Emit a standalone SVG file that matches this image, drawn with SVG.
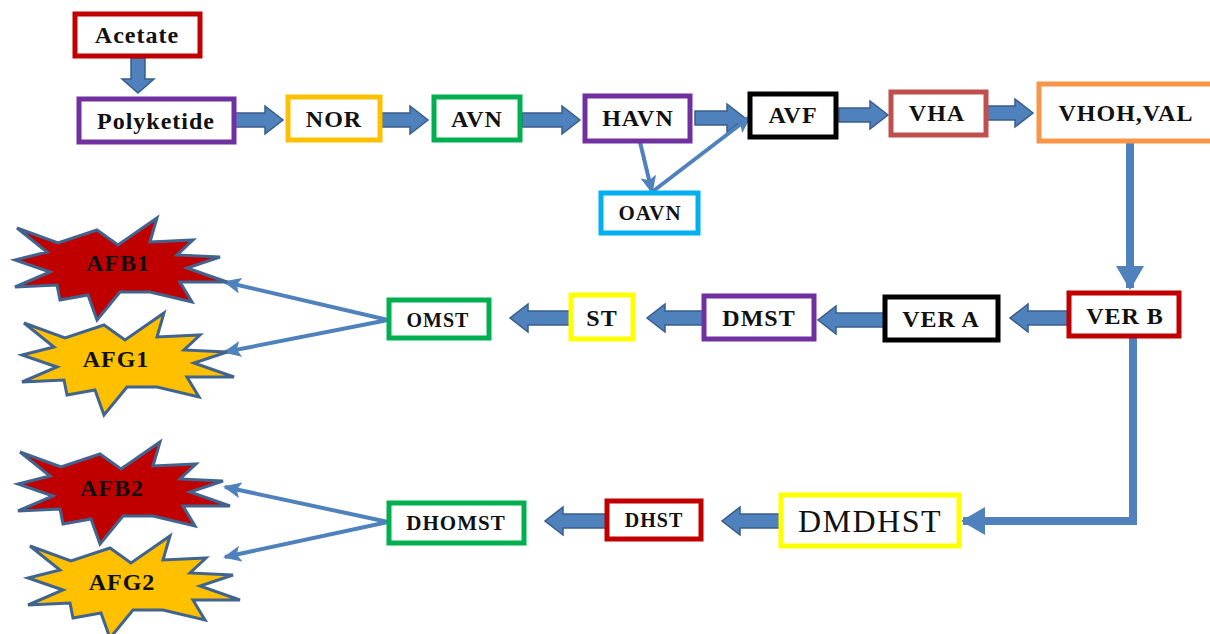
<svg xmlns="http://www.w3.org/2000/svg" xmlns:xlink="http://www.w3.org/1999/xlink" width="1210" height="634" viewBox="0 0 1210 634">
  <style>
    .box { fill: #ffffff; stroke-width: 5; }
    .red { stroke: #c00000; }
    .purple { stroke: #7030a0; }
    .orange { stroke: #ffc000; }
    .green { stroke: #00b050; }
    .black { stroke: #000000; }
    .cyan { stroke: #00b0f0; }
    .brick { stroke: #c0504d; }
    .peach { stroke: #f79646; }
    .yellow { stroke: #ffff00; }
    .lbl { font-family: "Liberation Serif", "Times New Roman", serif; font-weight: bold; font-size: 24px; letter-spacing: 1px; fill: #111111; text-anchor: middle; dominant-baseline: central; }
    .block { fill: #4f81bd; stroke: #385d8a; stroke-width: 1.5; }
    .thin { fill: none; stroke: #4f81bd; stroke-width: 4; }
    .thick { fill: none; stroke: #4f81bd; stroke-width: 8; }
    .star { stroke: #41648f; stroke-width: 3; stroke-linejoin: miter; }
    .starred { fill: #c00000; }
    .stargold { fill: #ffc000; }
  </style>
  <defs>
    <marker id="tip" markerUnits="userSpaceOnUse" markerWidth="18" markerHeight="16" refX="16" refY="8" orient="auto">
      <path d="M0,0 L18,8 L0,16 L4,8 Z" fill="#4f81bd"/>
    </marker>
    <marker id="bigtip" markerUnits="userSpaceOnUse" markerWidth="26" markerHeight="28" refX="22" refY="14" orient="auto">
      <path d="M0,0 L24,14 L0,28 Z" fill="#4f81bd"/>
    </marker>
    <!-- twelve-point explosion outline, centred on the origin -->
    <polygon id="burst" points="-100,-40 -59,-25 -20,-38 1,-23 40,-50 33,-26 76,-28 60,-13 103,-11 70,0 110,14 63,14 75,34 33,24 3,24 -20,52 -29,27 -57,32 -60,17 -102,19 -67,4 -102,-8 -70,-16"/>
  </defs>

  <rect width="1210" height="634" fill="#ffffff"/>

  <!-- connectors -->
  <g id="connectors">
    <!-- block arrows -->
    <path class="block" d="M131,58 H145 V79 H154 L138,93 L122,79 H131 Z"/>
    <path class="block" d="M234,113 H265 V106 L283,120 L265,134 V127 H234 Z"/>
    <path class="block" d="M382,113 H410 V106 L428,120 L410,134 V127 H382 Z"/>
    <path class="block" d="M522,113 H562 V106 L580,120 L562,134 V127 H522 Z"/>
    <path class="block" d="M695,111 H727 V104 L745,118 L727,132 V125 H695 Z"/>
    <path class="block" d="M839,108 H870 V101 L888,115 L870,129 V122 H839 Z"/>
    <path class="block" d="M987,106 H1015 V99 L1033,113 L1015,127 V120 H987 Z"/>
    <path class="block" d="M1068,311 H1028 V304 L1010,318 L1028,332 V325 H1068 Z"/>
    <path class="block" d="M884,313 H836 V306 L818,320 L836,334 V327 H884 Z"/>
    <path class="block" d="M703,311 H665 V304 L647,318 L665,332 V325 H703 Z"/>
    <path class="block" d="M570,311 H528 V304 L510,318 L528,332 V325 H570 Z"/>
    <path class="block" d="M780,514 H740 V507 L722,521 L740,535 V528 H780 Z"/>
    <path class="block" d="M606,514 H563 V507 L545,521 L563,535 V528 H606 Z"/>

    <!-- thin arrows -->
    <line class="thin" x1="640" y1="142" x2="652" y2="192" marker-end="url(#tip)"/>
    <line class="thin" x1="652" y1="192" x2="750" y2="117" marker-end="url(#tip)"/>
    <line class="thin" x1="388" y1="320" x2="225" y2="282" marker-end="url(#tip)"/>
    <line class="thin" x1="388" y1="320" x2="225" y2="352" marker-end="url(#tip)"/>
    <line class="thin" x1="388" y1="522" x2="225" y2="487" marker-end="url(#tip)"/>
    <line class="thin" x1="388" y1="522" x2="225" y2="557" marker-end="url(#tip)"/>

    <!-- long elbows -->
    <line class="thick" x1="1130" y1="142" x2="1130" y2="288" marker-end="url(#bigtip)"/>
    <polyline class="thick" points="1133,337 1133,521 963,521" marker-end="url(#bigtip)"/>
  </g>

  <!-- top row -->
  <g id="acetate"><rect class="box red" x="75" y="14" width="125" height="42"/><text class="lbl" x="137" y="35">Acetate</text></g>
  <g id="polyketide"><rect class="box purple" x="79" y="99" width="155" height="43"/><text class="lbl" x="156" y="121">Polyketide</text></g>
  <g id="nor"><rect class="box orange" x="288" y="97" width="92" height="43"/><text class="lbl" x="334" y="119">NOR</text></g>
  <g id="avn"><rect class="box green" x="434" y="97" width="86" height="43"/><text class="lbl" x="477" y="119">AVN</text></g>
  <g id="havn"><rect class="box purple" x="585" y="96" width="105" height="45"/><text class="lbl" x="638" y="118">HAVN</text></g>
  <g id="avf"><rect class="box black" x="750" y="94" width="86" height="43"/><text class="lbl" x="793" y="115">AVF</text></g>
  <g id="oavn"><rect class="box cyan" x="601" y="193" width="97" height="40"/><text class="lbl" x="650" y="213" style="font-size:21px">OAVN</text></g>
  <g id="vha"><rect class="box brick" x="891" y="92" width="95" height="43"/><text class="lbl" x="937" y="113">VHA</text></g>
  <g id="vhoh-val"><rect class="box peach" x="1039" y="84" width="176" height="57"/><text class="lbl" x="1126" y="113">VHOH,VAL</text></g>

  <!-- middle row -->
  <g id="ver-b"><rect class="box red" x="1069" y="293" width="110" height="43"/><text class="lbl" x="1125" y="316">VER B</text></g>
  <g id="ver-a"><rect class="box black" x="885" y="297" width="113" height="43"/><text class="lbl" x="941" y="319">VER A</text></g>
  <g id="dmst"><rect class="box purple" x="704" y="296" width="110" height="43"/><text class="lbl" x="759" y="318">DMST</text></g>
  <g id="st"><rect class="box yellow" x="571" y="295" width="62" height="44"/><text class="lbl" x="602" y="318">ST</text></g>
  <g id="omst"><rect class="box green" x="389" y="300" width="100" height="38"/><text class="lbl" x="438" y="320" style="font-size:20px">OMST</text></g>

  <!-- bottom row -->
  <g id="dmdhst"><rect class="box yellow" x="781" y="495" width="178" height="51"/><text class="lbl" x="870" y="521" style="font-weight:normal;font-size:32px;letter-spacing:1.5px">DMDHST</text></g>
  <g id="dhst"><rect class="box red" x="607" y="501" width="94" height="38"/><text class="lbl" x="654" y="520" style="font-size:20px">DHST</text></g>
  <g id="dhomst"><rect class="box green" x="389" y="503" width="135" height="40"/><text class="lbl" x="456" y="523" style="font-size:21px">DHOMST</text></g>

  <!-- aflatoxin products -->
  <g id="afb1"><use xlink:href="#burst" class="star starred" transform="translate(117,268)"/><text class="lbl" x="118" y="263">AFB1</text></g>
  <g id="afg1"><use xlink:href="#burst" class="star stargold" transform="translate(124,363)"/><text class="lbl" x="116" y="359">AFG1</text></g>
  <g id="afb2"><use xlink:href="#burst" class="star starred" transform="translate(120,492)"/><text class="lbl" x="112" y="488">AFB2</text></g>
  <g id="afg2"><use xlink:href="#burst" class="star stargold" transform="translate(130,586)"/><text class="lbl" x="122" y="582">AFG2</text></g>
</svg>
